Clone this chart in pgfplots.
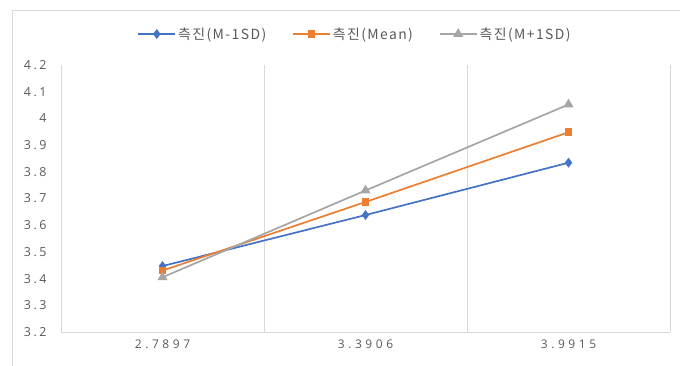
\documentclass[border=0pt]{standalone}
\usepackage{pgfplots}
\pgfplotsset{compat=1.18}
\usepackage{fontspec}
\setmainfont{Open Sans}
\newfontfamily\kr[LetterSpace=10]{Noto Sans CJK KR}
\newfontfamily\xf[LetterSpace=30]{Open Sans}
\newfontfamily\yf[LetterSpace=20]{Open Sans}
\definecolor{cb}{HTML}{4472C4}
\definecolor{co}{HTML}{ED7D31}
\definecolor{cg}{HTML}{A5A5A5}
\definecolor{gridc}{HTML}{D9D9D9}
\definecolor{labc}{HTML}{595959}
\begin{document}
\begin{tikzpicture}
\path[use as bounding box] (0,0) rectangle (680bp,366bp);
\draw[gridc, line width=0.75bp] (12bp,0) -- (12bp,356bp) -- (680bp,356bp);
\begin{axis}[
  at={(61bp,34bp)}, anchor=south west,
  scale only axis, width=609bp, height=267bp,
  xmin=-0.5, xmax=2.5, ymin=3.2, ymax=4.2,
  xtick={0,1,2}, xticklabels={2.7897,3.3906,3.9915},
  ytick={3.2,3.3,3.4,3.5,3.6,3.7,3.8,3.9,4.0,4.1,4.2},
  minor xtick={0.5,1.5,2.5},
  xminorgrids, minor grid style={draw=gridc, line width=0.75bp},
  major tick length=0pt, minor tick length=0pt,
  tick style={draw=none},
  axis x line*=bottom, axis y line*=left,
  axis line style={-, draw=gridc, line width=0.75bp},
  /pgf/number format/assume math mode=true,
  yticklabel style={font=\yf\fontsize{12.5}{14}\selectfont, text=labc, xshift=-11bp},
  xticklabel style={font=\xf\fontsize{12}{14}\selectfont, text=labc, yshift=-4bp},
  legend columns=3,
  legend style={draw=none, fill=none, at={(0.4828,1.116)}, anchor=center,
    font=\kr\fontsize{14}{16}\selectfont, text=labc,
    /tikz/every even column/.append style={column sep=24bp}},
  legend cell align=left,
  legend image code/.code={\draw[mark repeat=2,mark phase=2] plot coordinates {(0bp,0bp)(18.5bp,0bp)(37bp,0bp)};},
]
\addplot[cb, line width=1.7bp, mark=diamond*, mark size=3.6bp, mark options={solid}] coordinates {(0,3.447)(1,3.638)(2,3.834)};
\addlegendentry{측진(M-1SD)}
\addplot[co, line width=1.7bp, mark=square*, mark size=3bp, mark options={solid}] coordinates {(0,3.430)(1,3.687)(2,3.948)};
\addlegendentry{측진(Mean)}
\addplot[cg, line width=1.7bp, mark=triangle*, mark size=4.2bp, mark options={solid}] coordinates {(0,3.405)(1,3.730)(2,4.052)};
\addlegendentry{측진(M+1SD)}
\end{axis}
\end{tikzpicture}
\end{document}
